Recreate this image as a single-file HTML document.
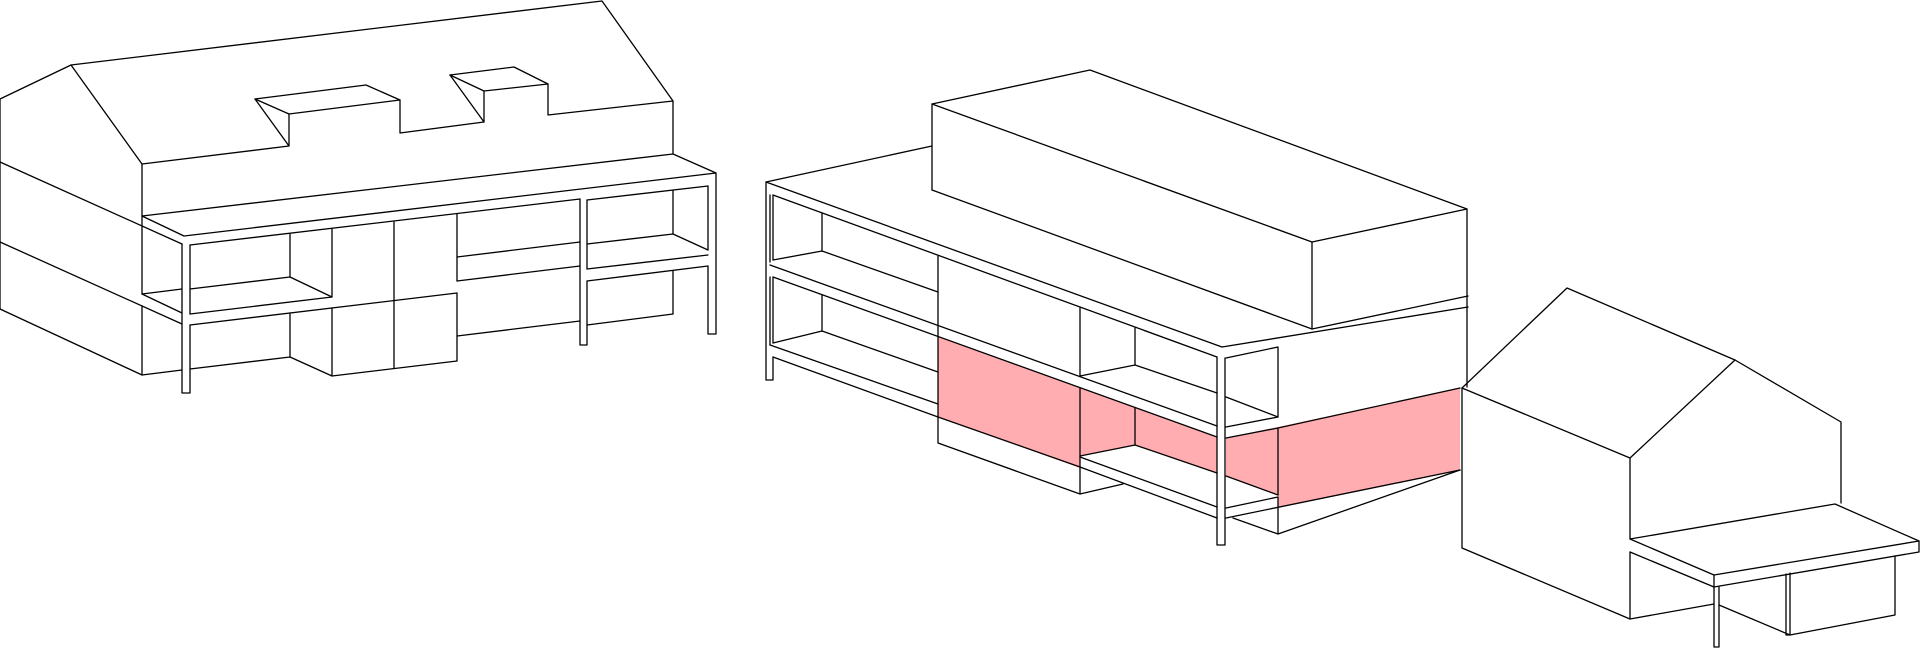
<!DOCTYPE html>
<html><head><meta charset="utf-8"><style>
html,body{margin:0;padding:0;background:#fff;}
svg{display:block;}
</style></head><body>
<svg width="1920" height="649" viewBox="0 0 1920 649" xmlns="http://www.w3.org/2000/svg">
<g fill="#ffadb0" stroke="none">
<polygon points="938,336 1217,437 1217,473 1135,445 1080,456 1080,468 938,417"/>
<polygon points="1226,438 1460,388 1460,470 1278,507 1278,495 1226,476"/>
</g>
<g fill="none" stroke="#000" stroke-width="1.3" stroke-linejoin="round" stroke-linecap="round">
<!-- LEFT BUILDING -->
<polyline points="0,309 0,99 71,65 602,1 673,101 673,154 716,173 716,334 708,334 708,266"/>
<line x1="708" y1="186" x2="708" y2="250"/>
<line x1="71" y1="65" x2="142" y2="164"/>
<polyline points="142,164 289,146"/>
<polyline points="255,99 366,85 400,100 400,133 484,122"/>
<polyline points="255,99 289,114 400,100"/>
<polyline points="255,99 289,146 289,114"/>
<polyline points="450,75 514,67 548,84 548,115 673,101"/>
<polyline points="450,75 484,91 548,84"/>
<polyline points="450,75 484,122 484,91"/>
<polyline points="142,164 142,216 673,154"/>
<polyline points="142,216 184,236 716,173"/>
<line x1="0" y1="162" x2="182" y2="244"/>
<line x1="0" y1="242" x2="182" y2="324"/>
<polyline points="0,309 142,375 182,370"/>
<line x1="142" y1="216" x2="142" y2="294"/>
<line x1="142" y1="306" x2="142" y2="375"/>
<line x1="142" y1="294" x2="182" y2="289"/>
<line x1="142" y1="294" x2="182" y2="313"/>
<polyline points="182,244 182,393 190,393 190,325"/>
<line x1="190" y1="245" x2="190" y2="314"/>
<line x1="190" y1="245" x2="580" y2="199"/>
<line x1="190" y1="314" x2="332" y2="297"/>
<line x1="290" y1="234" x2="290" y2="277"/>
<polyline points="190,289 290,277 332,297"/>
<line x1="332" y1="229" x2="332" y2="297"/>
<line x1="190" y1="325" x2="457" y2="293"/>
<line x1="290" y1="314" x2="290" y2="357"/>
<polyline points="190,369 290,357 332,376 457,361"/>
<line x1="332" y1="308" x2="332" y2="376"/>
<line x1="394" y1="222" x2="394" y2="368"/>
<line x1="457" y1="214" x2="457" y2="281"/>
<line x1="457" y1="257" x2="580" y2="242"/>
<line x1="457" y1="281" x2="580" y2="266"/>
<line x1="457" y1="293" x2="457" y2="361"/>
<line x1="457" y1="336" x2="580" y2="321"/>
<polyline points="580,199 580,345 587,345 587,281"/>
<line x1="587" y1="200" x2="587" y2="269"/>
<line x1="587" y1="200" x2="708" y2="186"/>
<line x1="673" y1="191" x2="673" y2="234"/>
<polyline points="587,244 673,234 708,250"/>
<line x1="587" y1="269" x2="708" y2="255"/>
<line x1="587" y1="281" x2="708" y2="266"/>
<line x1="673" y1="271" x2="673" y2="314"/>
<line x1="587" y1="325" x2="673" y2="314"/>
<!-- MIDDLE BUILDING -->
<polygon points="932,104 1090,70 1467,209 1312,242"/>
<line x1="932" y1="104" x2="932" y2="190"/>
<line x1="932" y1="190" x2="1312" y2="329"/>
<line x1="1312" y1="242" x2="1312" y2="329"/>
<line x1="1312" y1="329" x2="1468" y2="296"/>
<line x1="1467" y1="209" x2="1467" y2="387"/>
<polyline points="932,146 766,182 1222,347 1468,307"/>
<polyline points="766,182 766,380 773,380 773,357"/>
<line x1="773" y1="195" x2="773" y2="260"/>
<line x1="773" y1="277" x2="773" y2="343"/>
<line x1="770" y1="195" x2="770" y2="262"/>
<line x1="770" y1="277" x2="770" y2="345"/>
<line x1="773" y1="195" x2="1217" y2="357"/>
<line x1="822" y1="213" x2="822" y2="251"/>
<polyline points="773,260 822,251 938,292"/>
<line x1="770" y1="265" x2="1217" y2="426"/>
<line x1="773" y1="277" x2="1217" y2="437"/>
<line x1="822" y1="295" x2="822" y2="331"/>
<polyline points="773,343 822,331 938,372"/>
<line x1="770" y1="345" x2="938" y2="404"/>
<polyline points="773,357 938,417 1080,467 1217,518"/>
<polyline points="938,256 938,443 1080,494 1123,484"/>
<line x1="1080" y1="308" x2="1080" y2="376"/>
<line x1="1080" y1="388" x2="1080" y2="494"/>
<polyline points="1080,376 1135,365 1217,393"/>
<line x1="1135" y1="328" x2="1135" y2="365"/>
<line x1="1135" y1="408" x2="1135" y2="445"/>
<polyline points="1080,456 1135,445 1217,473"/>
<line x1="1080" y1="457" x2="1217" y2="507"/>
<polyline points="1217,357 1217,545 1225,545 1225,358"/>
<polyline points="1226,358 1278,347 1278,417 1226,427"/>
<line x1="1226" y1="397" x2="1278" y2="417"/>
<polyline points="1226,438 1278,428 1460,388"/>
<line x1="1278" y1="428" x2="1278" y2="495"/>
<polyline points="1226,476 1278,495"/>
<polyline points="1226,508 1278,497 1278,534"/>
<polyline points="1233,518 1278,534 1460,470"/>
<line x1="1226" y1="518" x2="1460" y2="470"/>
<!-- RIGHT HOUSE -->
<polyline points="1462,388 1567,288 1735,360 1841,422 1841,503"/>
<polyline points="1462,388 1630,458 1735,360"/>
<polyline points="1462,388 1462,548 1630,619 1714,604"/>
<line x1="1630" y1="458" x2="1630" y2="539"/>
<polyline points="1630,539 1835,504 1919,541 1919,552 1714,587 1714,575 1630,539"/>
<line x1="1714" y1="575" x2="1919" y2="541"/>
<line x1="1630" y1="552" x2="1714" y2="587"/>
<line x1="1630" y1="552" x2="1630" y2="619"/>
<polyline points="1714,587 1714,647 1719,647 1719,587"/>
<polyline points="1719,605 1790,635 1895,615 1895,556"/>
<polyline points="1786,574 1786,635 1790,635 1790,573"/>
</g>
</svg>
</body></html>
